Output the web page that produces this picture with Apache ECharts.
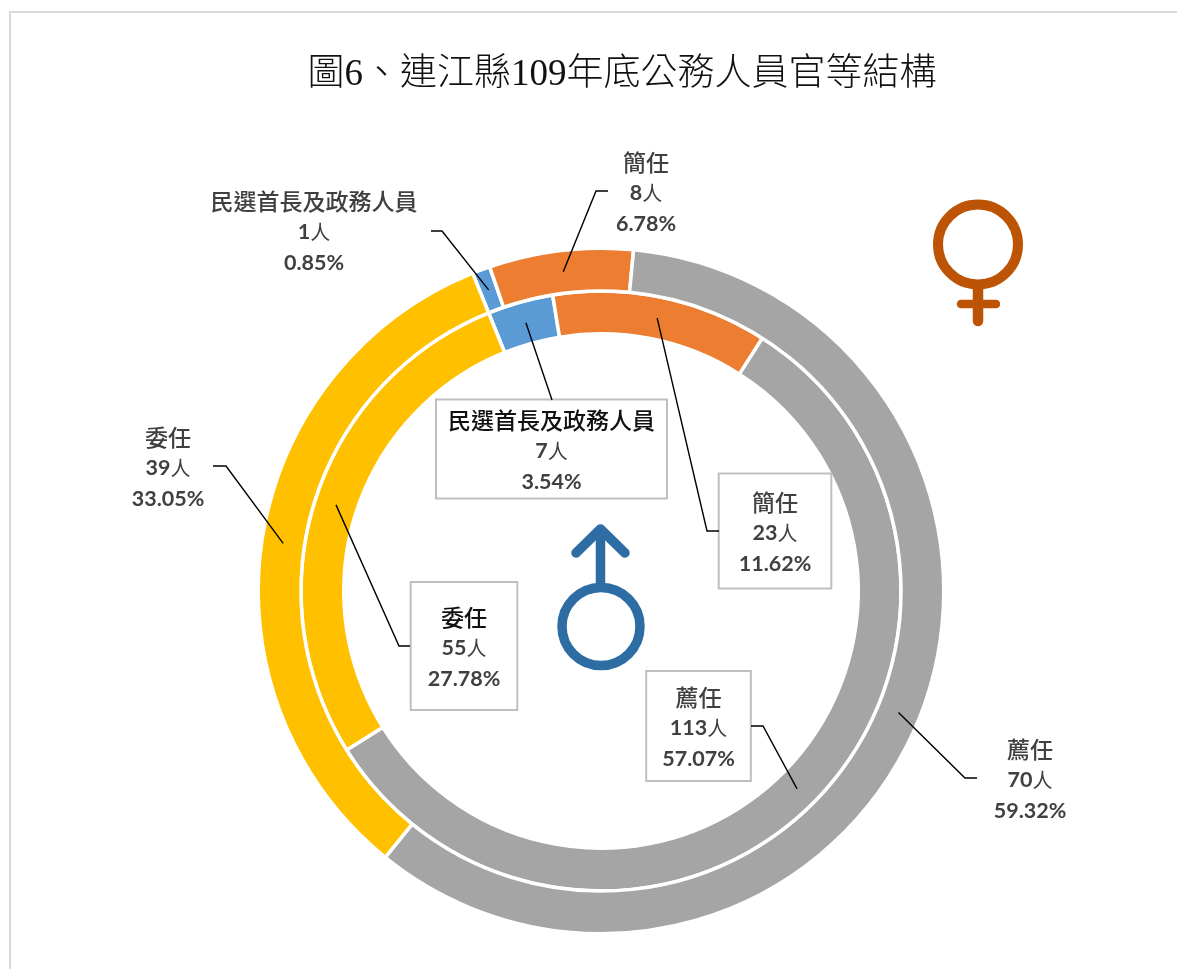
<!DOCTYPE html>
<html>
<head>
<meta charset="utf-8">
<title>圖6</title>
<script src="https://cdn.jsdelivr.net/npm/echarts@6/dist/echarts.min.js"></script>
<style>
    html, body { margin: 0; padding: 0; background: #fff; overflow: hidden; }
    #main { width: 1177px; height: 969px; }
</style>
</head>
<body>
<div id="main"></div>
<script>
// 資料
const chartTitle = '圖6、連江縣109年底公務人員官等結構';
const categories = ['民選首長及政務人員', '簡任', '薦任', '委任'];
const femaleCounts = [1, 8, 70, 39];
const femaleRatios = ['0.85%', '6.78%', '59.32%', '33.05%'];
const maleCounts = [7, 23, 113, 55];
const maleRatios = ['3.54%', '11.62%', '57.07%', '27.78%'];
const sliceColors = ['#5b9bd5', '#ed7d31', '#a5a5a5', '#ffc000'];

// 版面
const center = [601, 591];
const firstAngle = 112;
const innerRadius = [257.25, 300];
const outerRadius = [300, 342.75];

// label center, leader elbow and leader end
const femaleSpots = [
    { at: [314, 232], elbow: [442, 231], end: [431, 231] },
    { at: [646, 193], elbow: [596, 191], end: [608, 191] },
    { at: [1030, 780], elbow: [965, 778], end: [977, 778] },
    { at: [168, 468], elbow: [226, 466], end: [213, 466] }
];
const maleSpots = [
    { at: [551.5, 449], elbow: [552, 400], end: [552, 400], pad: [4, 11, 0, 11], dark: true },
    { at: [775, 531], elbow: [707, 531], end: [719, 531], pad: [12, 19, 8, 19] },
    { at: [698.5, 726], elbow: [763, 726], end: [751, 726], pad: [9.5, 15, 5.5, 15] },
    { at: [464, 646], elbow: [399, 646], end: [410, 646], pad: [18.5, 16, 14.5, 16], dark: true }
];

function ringData(counts, ratios, spots, boxed) {
    return counts.map(function (v, i) {
        let name = spots[i].dark ? 'nameDark' : 'name';
        let label = {
            formatter: '{' + name + '|' + categories[i] + '}\n{num|' + v + '}{ren|人}\n{pct|' + ratios[i] + '}'
        };
        if (boxed) {
            label.backgroundColor = '#fff';
            label.borderColor = '#bfbfbf';
            label.borderWidth = 2;
            label.padding = spots[i].pad;
        }
        return { name: categories[i], value: v, label: label, itemStyle: { color: sliceColors[i] } };
    });
}

function ringSeries(name, radius, counts, ratios, spots, boxed) {
    return {
        name: name,
        type: 'pie',
        center: center,
        radius: radius,
        startAngle: firstAngle,
        clockwise: true,
        animation: false,
        silent: true,
        avoidLabelOverlap: false,
        itemStyle: { borderColor: '#fff', borderWidth: 3.5 },
        labelLine: { show: false },
        label: {
            show: true,
            position: 'inside',
            align: 'center',
            rich: {
                name: { fontFamily: '"Noto Sans CJK TC"', fontSize: 23, fontWeight: 500, color: '#404040', lineHeight: 31, align: 'center' },
                nameDark: { fontFamily: '"Noto Sans CJK TC"', fontSize: 23, fontWeight: 500, color: '#111', lineHeight: 31, align: 'center' },
                num: { fontFamily: 'Lato', fontSize: 21.5, fontWeight: 'bold', color: '#404040', lineHeight: 31 },
                ren: { fontFamily: '"Noto Sans CJK TC"', fontSize: 20, color: '#404040', lineHeight: 31 },
                pct: { fontFamily: 'Lato', fontSize: 21.5, fontWeight: 'bold', color: '#404040', lineHeight: 31 }
            }
        },
        labelLayout: function (params) {
            let p = spots[params.dataIndex].at;
            return { x: p[0], y: p[1], align: 'center', verticalAlign: 'middle' };
        },
        data: ringData(counts, ratios, spots, boxed)
    };
}

// leader lines start in the middle of each slice
function leaders(counts, radius, spots) {
    let total = counts.reduce(function (a, b) { return a + b; }, 0);
    let r = (radius[0] + radius[1]) / 2;
    let sum = 0;
    return counts.map(function (v, i) {
        let deg = firstAngle - (sum + v / 2) / total * 360;
        sum += v;
        let rad = deg * Math.PI / 180;
        let start = [center[0] + r * Math.cos(rad), center[1] - r * Math.sin(rad)];
        return {
            type: 'polyline',
            z: 50,
            silent: true,
            shape: { points: [start, spots[i].elbow, spots[i].end] },
            style: { fill: null, stroke: '#000', lineWidth: 1.4 }
        };
    });
}

const maleColor = '#2e6ca4';
const femaleColor = '#bd5305';

function stroke(points, color, width) {
    return {
        type: 'polyline',
        z: 50,
        silent: true,
        shape: { points: points },
        style: { fill: null, stroke: color, lineWidth: width, lineCap: 'round', lineJoin: 'round' }
    };
}

function ring(cx, cy, r, color, width) {
    return {
        type: 'circle',
        z: 50,
        silent: true,
        shape: { cx: cx, cy: cy, r: r },
        style: { fill: null, stroke: color, lineWidth: width }
    };
}

const symbols = [
    // 男
    ring(601, 626.5, 39, maleColor, 9.5),
    stroke([[600.5, 585], [600.5, 530]], maleColor, 9.5),
    stroke([[576, 553], [600.5, 529], [625, 553]], maleColor, 9.5),
    // 女
    ring(978, 244.5, 40, femaleColor, 10),
    stroke([[978, 286], [978, 321]], femaleColor, 10.5),
    stroke([[961, 304], [996, 304]], femaleColor, 8.5)
];

const frame = {
    type: 'polyline',
    silent: true,
    shape: { points: [[1177, 12], [10, 12], [10, 969]] },
    style: { fill: null, stroke: '#d9d9d9', lineWidth: 2 }
};

const option = {
    backgroundColor: '#fff',
    animation: false,
    title: {
        text: chartTitle,
        left: 617,
        top: 52,
        textAlign: 'center',
        textStyle: {
            fontFamily: '"Liberation Serif", "Noto Sans CJK TC"',
            fontSize: 37,
            fontWeight: 300,
            color: '#111'
        }
    },
    series: [
        ringSeries('男', innerRadius, maleCounts, maleRatios, maleSpots, true),
        ringSeries('女', outerRadius, femaleCounts, femaleRatios, femaleSpots, false)
    ],
    graphic: [frame].concat(
        leaders(femaleCounts, outerRadius, femaleSpots),
        leaders(maleCounts, innerRadius, maleSpots),
        symbols
    )
};

const myChart = echarts.init(document.getElementById('main'));
myChart.setOption(option);
</script>
</body>
</html>
